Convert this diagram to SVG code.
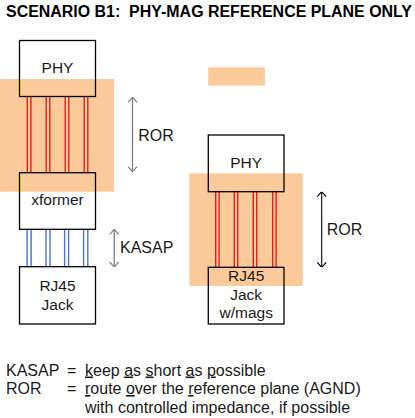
<svg xmlns="http://www.w3.org/2000/svg" width="415" height="418" viewBox="0 0 415 418">
<style>
text{font-family:"Liberation Sans",Arial,sans-serif;fill:#1a1a1a}
.lbl{font-size:15.5px;text-anchor:middle}
.leg{font-size:16px}
.box{fill:none;stroke:#000;stroke-width:1.3}
.plane{fill:#FBCA9A}
.red{stroke:#E3211C;stroke-width:1.4;fill:none}
.blue{stroke:#4A74C9;stroke-width:1.4;fill:none}
.u{text-decoration:underline}
</style>
<defs>
<marker id="ag" viewBox="0 0 10 10" refX="10" refY="5" markerWidth="10" markerHeight="10" markerUnits="userSpaceOnUse" orient="auto-start-reverse">
<path d="M5,0.5 L10,5 L5,9.5" fill="none" stroke="#808080" stroke-width="1.2"/>
</marker>
<marker id="ab" viewBox="0 0 10 10" refX="10" refY="5" markerWidth="10" markerHeight="10" markerUnits="userSpaceOnUse" orient="auto-start-reverse">
<path d="M5,0.5 L10,5 L5,9.5" fill="none" stroke="#000" stroke-width="1.2"/>
</marker>
</defs>
<rect width="415" height="418" fill="#fff"/>
<text x="6" y="16.9" font-size="16" font-weight="bold" textLength="406" lengthAdjust="spacingAndGlyphs" xml:space="preserve" style="fill:#000;white-space:pre">SCENARIO B1:  PHY-MAG REFERENCE PLANE ONLY</text>
<g id="planes">
<rect class="plane" x="0" y="79" width="114" height="112.7"/>
<rect class="plane" x="208.3" y="67.3" width="56.7" height="18.4"/>
<rect class="plane" x="189.3" y="173.3" width="113.4" height="112.7"/>
</g>
<g id="connectors">
<g class="red">
<path d="M27.3,96.5V172.7M30.9,96.5V172.7M46.2,96.5V172.7M49.8,96.5V172.7M65.2,96.5V172.7M68.8,96.5V172.7M84.2,96.5V172.7M87.8,96.5V172.7"/>
<path d="M215.7,191.7V267.3M219.1,191.7V267.3M234.3,191.7V267.3M237.7,191.7V267.3M253.3,191.7V267.3M256.7,191.7V267.3M272.7,191.7V267.3M276.1,191.7V267.3"/>
</g>
<g class="blue">
<path d="M27.1,229.3V266.7M31.1,229.3V266.7M46,229.3V266.7M50,229.3V266.7M64.6,229.3V266.7M68.6,229.3V266.7M83.6,229.3V266.7M87.8,229.3V266.7"/>
</g>
<line x1="132.5" y1="97.3" x2="132.5" y2="171.7" stroke="#808080" stroke-width="1.3" marker-start="url(#ag)" marker-end="url(#ag)"/>
<line x1="114.2" y1="229.3" x2="114.2" y2="267" stroke="#808080" stroke-width="1.3" marker-start="url(#ag)" marker-end="url(#ag)"/>
<line x1="321.7" y1="191.7" x2="321.7" y2="267.3" stroke="#000" stroke-width="1.1" marker-start="url(#ab)" marker-end="url(#ab)"/>
<text class="leg" x="138.3" y="140.5" font-size="15.5">ROR</text>
<text class="leg" x="120" y="253.3" font-size="15.5">KASAP</text>
<text class="leg" x="326.7" y="234.5" font-size="15.5">ROR</text>
</g>
<g id="phy-left">
<rect class="box" x="19.5" y="40.5" width="76" height="56"/>
<text class="lbl" x="57.5" y="73.3">PHY</text>
</g>
<g id="xformer">
<rect class="box" x="19.5" y="172.7" width="76" height="56.6"/>
<text class="lbl" x="57.5" y="205">xformer</text>
</g>
<g id="rj45-left">
<rect class="box" x="19.5" y="266.7" width="76" height="57.3"/>
<text class="lbl" x="57.5" y="291">RJ45</text>
<text class="lbl" x="57.5" y="310">Jack</text>
</g>
<g id="phy-right">
<rect class="box" x="208.3" y="135" width="75.7" height="56.7"/>
<text class="lbl" x="246.2" y="167.7">PHY</text>
</g>
<g id="rj45-right">
<rect class="box" x="208.3" y="267.3" width="75.7" height="56.7"/>
<text class="lbl" x="246.2" y="280.5">RJ45</text>
<text class="lbl" x="246.2" y="299.5">Jack</text>
<text class="lbl" x="246.2" y="318">w/mags</text>
</g>
<g id="legend">
<text class="leg" x="6" y="375.5">KASAP</text>
<text class="leg" x="67" y="375.5">=</text>
<text class="leg" x="85" y="375.5"><tspan class="u">k</tspan>eep <tspan class="u">a</tspan>s <tspan class="u">s</tspan>hort <tspan class="u">a</tspan>s <tspan class="u">p</tspan>ossible</text>
<text class="leg" x="6" y="394">ROR</text>
<text class="leg" x="67" y="394">=</text>
<text class="leg" x="85" y="394"><tspan class="u">r</tspan>oute <tspan class="u">o</tspan>ver the <tspan class="u">r</tspan>eference plane (AGND)</text>
<text class="leg" x="85" y="412.5">with controlled impedance, if possible</text>
</g>
</svg>
